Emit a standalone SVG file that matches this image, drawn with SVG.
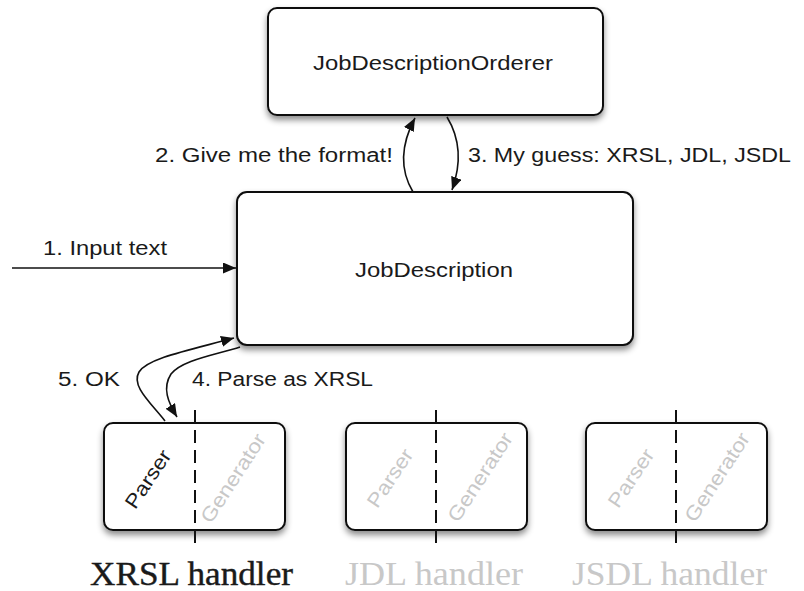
<svg xmlns="http://www.w3.org/2000/svg" width="804" height="591" viewBox="0 0 804 591">
<defs>
<filter id="sh" x="-10%" y="-10%" width="125%" height="135%">
<feDropShadow dx="0" dy="4" stdDeviation="3" flood-color="#000" flood-opacity="0.45"/>
</filter>
<marker id="ah" markerUnits="userSpaceOnUse" markerWidth="14" markerHeight="12" refX="13" refY="5.5" orient="auto">
<path d="M0,0 L13,5.5 L0,11 z" fill="#111"/>
</marker>
<style>
.box{fill:#fff;stroke:#111;stroke-width:2;filter:url(#sh)}
.lbl{font-family:"Liberation Sans",Arial,sans-serif;font-size:20px;fill:#1a1a1a}
.rot{font-family:"Liberation Sans",Arial,sans-serif;font-size:20px;text-anchor:middle}
.dk{fill:#1a1a1a}
.lt{fill:#c8c8c8}
.hd{font-family:"Liberation Serif","Times New Roman",serif;font-size:33px}
.dash{stroke:#111;stroke-width:2;stroke-dasharray:13,7;fill:none}
.con{fill:none;stroke:#111;stroke-width:1.6}
</style>
</defs>
<rect width="804" height="591" fill="#fff"/>

<g id="orderer">
<rect class="box" x="268" y="8" width="335" height="107" rx="9"/>
<text class="lbl" x="313" y="70" textLength="240" lengthAdjust="spacingAndGlyphs">JobDescriptionOrderer</text>
</g>

<g id="jobdescription">
<rect class="box" x="237" y="192" width="396" height="153" rx="10"/>
<text class="lbl" x="355" y="277" textLength="158" lengthAdjust="spacingAndGlyphs">JobDescription</text>
</g>

<g id="xrsl-handler">
<rect class="box" x="104" y="423" width="181" height="107" rx="9"/>
<line class="dash" x1="195" y1="410" x2="195" y2="545"/>
<text class="rot dk" transform="translate(148,479) rotate(-56)" y="7" textLength="66" lengthAdjust="spacingAndGlyphs">Parser</text>
<text class="rot lt" transform="translate(233,478) rotate(-57)" y="7" textLength="102" lengthAdjust="spacingAndGlyphs">Generator</text>
<text class="hd dk" x="90" y="585" textLength="203" lengthAdjust="spacingAndGlyphs" stroke="#1a1a1a" stroke-width="0.4">XRSL handler</text>
</g>

<g id="jdl-handler">
<rect class="box" x="346" y="423" width="181" height="107" rx="9"/>
<line class="dash" x1="436" y1="410" x2="436" y2="545"/>
<text class="rot lt" transform="translate(390,478) rotate(-56)" y="7" textLength="66" lengthAdjust="spacingAndGlyphs">Parser</text>
<text class="rot lt" transform="translate(480,477) rotate(-57)" y="7" textLength="102" lengthAdjust="spacingAndGlyphs">Generator</text>
<text class="hd lt" x="345" y="585" textLength="178" lengthAdjust="spacingAndGlyphs">JDL handler</text>
</g>

<g id="jsdl-handler">
<rect class="box" x="586" y="423" width="181" height="107" rx="9"/>
<line class="dash" x1="676" y1="410" x2="676" y2="545"/>
<text class="rot lt" transform="translate(631,478) rotate(-56)" y="7" textLength="66" lengthAdjust="spacingAndGlyphs">Parser</text>
<text class="rot lt" transform="translate(717,477) rotate(-57)" y="7" textLength="102" lengthAdjust="spacingAndGlyphs">Generator</text>
<text class="hd lt" x="572" y="585" textLength="195" lengthAdjust="spacingAndGlyphs">JSDL handler</text>
</g>

<g id="connectors">
<path class="con" d="M12,268 L236,268" marker-end="url(#ah)"/>
<path class="con" d="M413,192 C401,172 399,148 415,118" marker-end="url(#ah)"/>
<path class="con" d="M447,117 C461,140 461,165 452,190" marker-end="url(#ah)"/>
<path class="con" d="M240,347 C215,355 182,360 171,374 C162,388 168,402 177,417" marker-end="url(#ah)"/>
<path class="con" d="M165,421 C150,402 131,386 139,372 C148,358 190,350 234,338" marker-end="url(#ah)"/>
<text class="lbl" x="43" y="255" textLength="124" lengthAdjust="spacingAndGlyphs">1. Input text</text>
<text class="lbl" x="155" y="162" textLength="238" lengthAdjust="spacingAndGlyphs">2. Give me the format!</text>
<text class="lbl" x="468" y="162" textLength="323" lengthAdjust="spacingAndGlyphs">3. My guess: XRSL, JDL, JSDL</text>
<text class="lbl" x="58" y="386" textLength="62" lengthAdjust="spacingAndGlyphs">5. OK</text>
<text class="lbl" x="192" y="386" textLength="181" lengthAdjust="spacingAndGlyphs">4. Parse as XRSL</text>
</g>
</svg>
